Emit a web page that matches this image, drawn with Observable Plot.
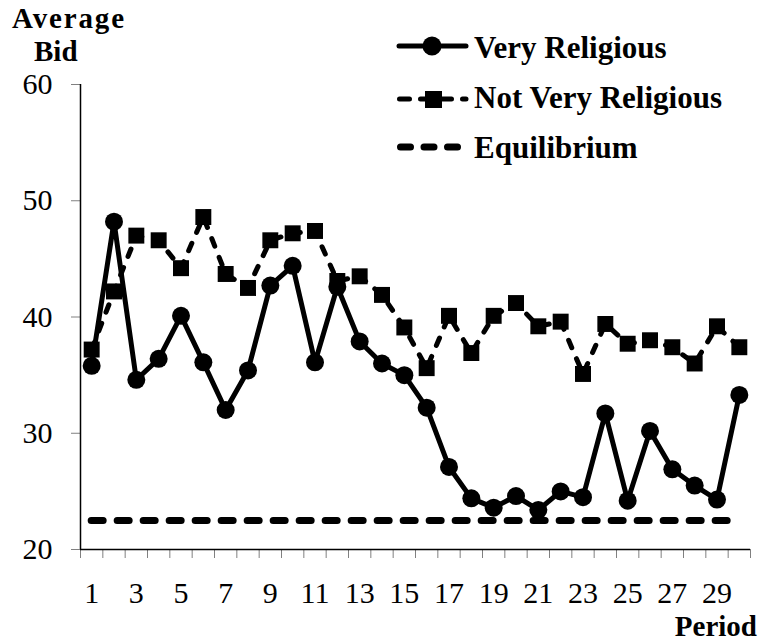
<!DOCTYPE html>
<html>
<head>
<meta charset="utf-8">
<script src="https://cdn.jsdelivr.net/npm/d3@7"></script>
<script src="https://cdn.jsdelivr.net/npm/@observablehq/plot@0.6"></script>
<style>
  body { margin: 0; background: #fff; }
  #chart { position: relative; width: 761px; height: 642px; font-family: 'Liberation Serif', Tinos, 'DejaVu Serif', serif; }
  #chart svg { position: absolute; left: 0; top: 0; }
  #chart svg text { font-family: 'Liberation Serif', Tinos, 'DejaVu Serif', serif; }
</style>
</head>
<body>
<div id="chart"></div>
<script>
// ---- data ----
const periods = [1,2,3,4,5,6,7,8,9,10,11,12,13,14,15,16,17,18,19,20,21,22,23,24,25,26,27,28,29,30];
const veryReligious = [35.8,48.2,34.6,36.4,40.1,36.1,32.0,35.4,42.7,44.4,36.1,42.6,37.9,36.0,35.0,32.2,27.1,24.4,23.6,24.6,23.4,25.0,24.5,31.7,24.2,30.2,26.9,25.5,24.3,33.3];
const notVeryReligious = [37.2,42.2,47.0,46.6,44.2,48.6,43.7,42.5,46.6,47.2,47.4,43.1,43.5,41.9,39.1,35.6,40.1,36.9,40.1,41.2,39.2,39.6,35.1,39.4,37.7,38.0,37.4,36.0,39.2,37.4];
const equilibrium = [22.5];
const yTicks = [20,30,40,50,60];
const xTickLabels = [1,3,5,7,9,11,13,15,17,19,21,23,25,27,29];
const seriesNames = ["Very Religious", "Not Very Religious", "Equilibrium"];
const yTitle = ["Average", "Bid"];
const xTitle = "Period";

// ---- derived ----
const rows = periods.map((p, i) => ({period: p, vr: veryReligious[i], nvr: notVeryReligious[i]}));
const boundaries = periods.map(p => p - 0.5).concat([periods[periods.length - 1] + 0.5]);
const FONT = "'Liberation Serif', Tinos, 'DejaVu Serif', serif";

const chart = Plot.plot({
  width: 761,
  height: 642,
  marginLeft: 80,
  marginRight: 11,
  marginTop: 84,
  marginBottom: 93,
  style: {fontFamily: FONT, fontSize: "30px", background: "transparent", color: "black"},
  x: {domain: [boundaries[0], boundaries[boundaries.length - 1]]},
  y: {domain: [yTicks[0], yTicks[yTicks.length - 1]]},
  marks: [
    Plot.axisY({ticks: yTicks, tickSize: 9, tickPadding: 19, fontSize: 30, stroke: "#808080", fill: "black", label: null, tickFormat: d => String(d)}),
    Plot.axisX({ticks: boundaries, tickSize: 9, tickFormat: () => "", stroke: "#808080", label: null}),
    Plot.axisX({ticks: xTickLabels, tickSize: 0, tickPadding: 32, fontSize: 30, fill: "black", label: null, tickFormat: d => String(d)}),
    Plot.ruleX([boundaries[0]], {stroke: "black", strokeWidth: 1.5}),
    Plot.ruleY([yTicks[0]], {stroke: "black", strokeWidth: 1.5}),
    Plot.ruleY(equilibrium, {x1: periods[0], x2: periods[periods.length - 1], stroke: "black", strokeWidth: 7, strokeDasharray: "12,14", strokeLinecap: "round"}),
    Plot.lineY(rows, {x: "period", y: "nvr", stroke: "black", strokeWidth: 5, strokeDasharray: "8,12", strokeLinecap: "round"}),
    Plot.dot(rows, {x: "period", y: "nvr", symbol: "square", r: 9, fill: "black", stroke: "none"}),
    Plot.lineY(rows, {x: "period", y: "vr", stroke: "black", strokeWidth: 5}),
    Plot.dot(rows, {x: "period", y: "vr", r: 9, fill: "black", stroke: "none"})
  ]
});
document.getElementById("chart").appendChild(chart);

// ---- annotations & legend overlay ----
const ov = d3.select("#chart").append("svg")
  .attr("width", 761).attr("height", 642)
  .style("pointer-events", "none")
  .attr("font-family", FONT).attr("font-weight", "bold").attr("fill", "black");

ov.append("text").attr("x", 12).attr("y", 28).attr("font-size", 29).attr("textLength", 112).attr("lengthAdjust", "spacing").text(yTitle[0]);
ov.append("text").attr("x", 34).attr("y", 60.5).attr("font-size", 29).text(yTitle[1]);
ov.append("text").attr("x", 757).attr("y", 635.5).attr("text-anchor", "end").attr("font-size", 29).text(xTitle);

const lg = ov.append("g");
// Very Religious
lg.append("line").attr("x1", 399).attr("x2", 466).attr("y1", 46).attr("y2", 46)
  .attr("stroke", "black").attr("stroke-width", 5).attr("stroke-linecap", "round");
lg.append("circle").attr("cx", 432).attr("cy", 46).attr("r", 9.5).attr("fill", "black");
lg.append("text").attr("x", 474).attr("y", 58).attr("font-size", 31).text(seriesNames[0]);
// Not Very Religious
lg.append("line").attr("x1", 399.5).attr("x2", 466).attr("y1", 99).attr("y2", 99)
  .attr("stroke", "black").attr("stroke-width", 5).attr("stroke-linecap", "round").attr("stroke-dasharray", "10,11");
lg.append("rect").attr("x", 425).attr("y", 91).attr("width", 17).attr("height", 17).attr("fill", "black");
lg.append("text").attr("x", 474).attr("y", 108).attr("font-size", 31).text(seriesNames[1]);
// Equilibrium
lg.append("line").attr("x1", 400.5).attr("x2", 465).attr("y1", 147).attr("y2", 147)
  .attr("stroke", "black").attr("stroke-width", 7).attr("stroke-linecap", "round").attr("stroke-dasharray", "10,13.5");
lg.append("text").attr("x", 474).attr("y", 158).attr("font-size", 31).text(seriesNames[2]);
</script>
</body>
</html>
